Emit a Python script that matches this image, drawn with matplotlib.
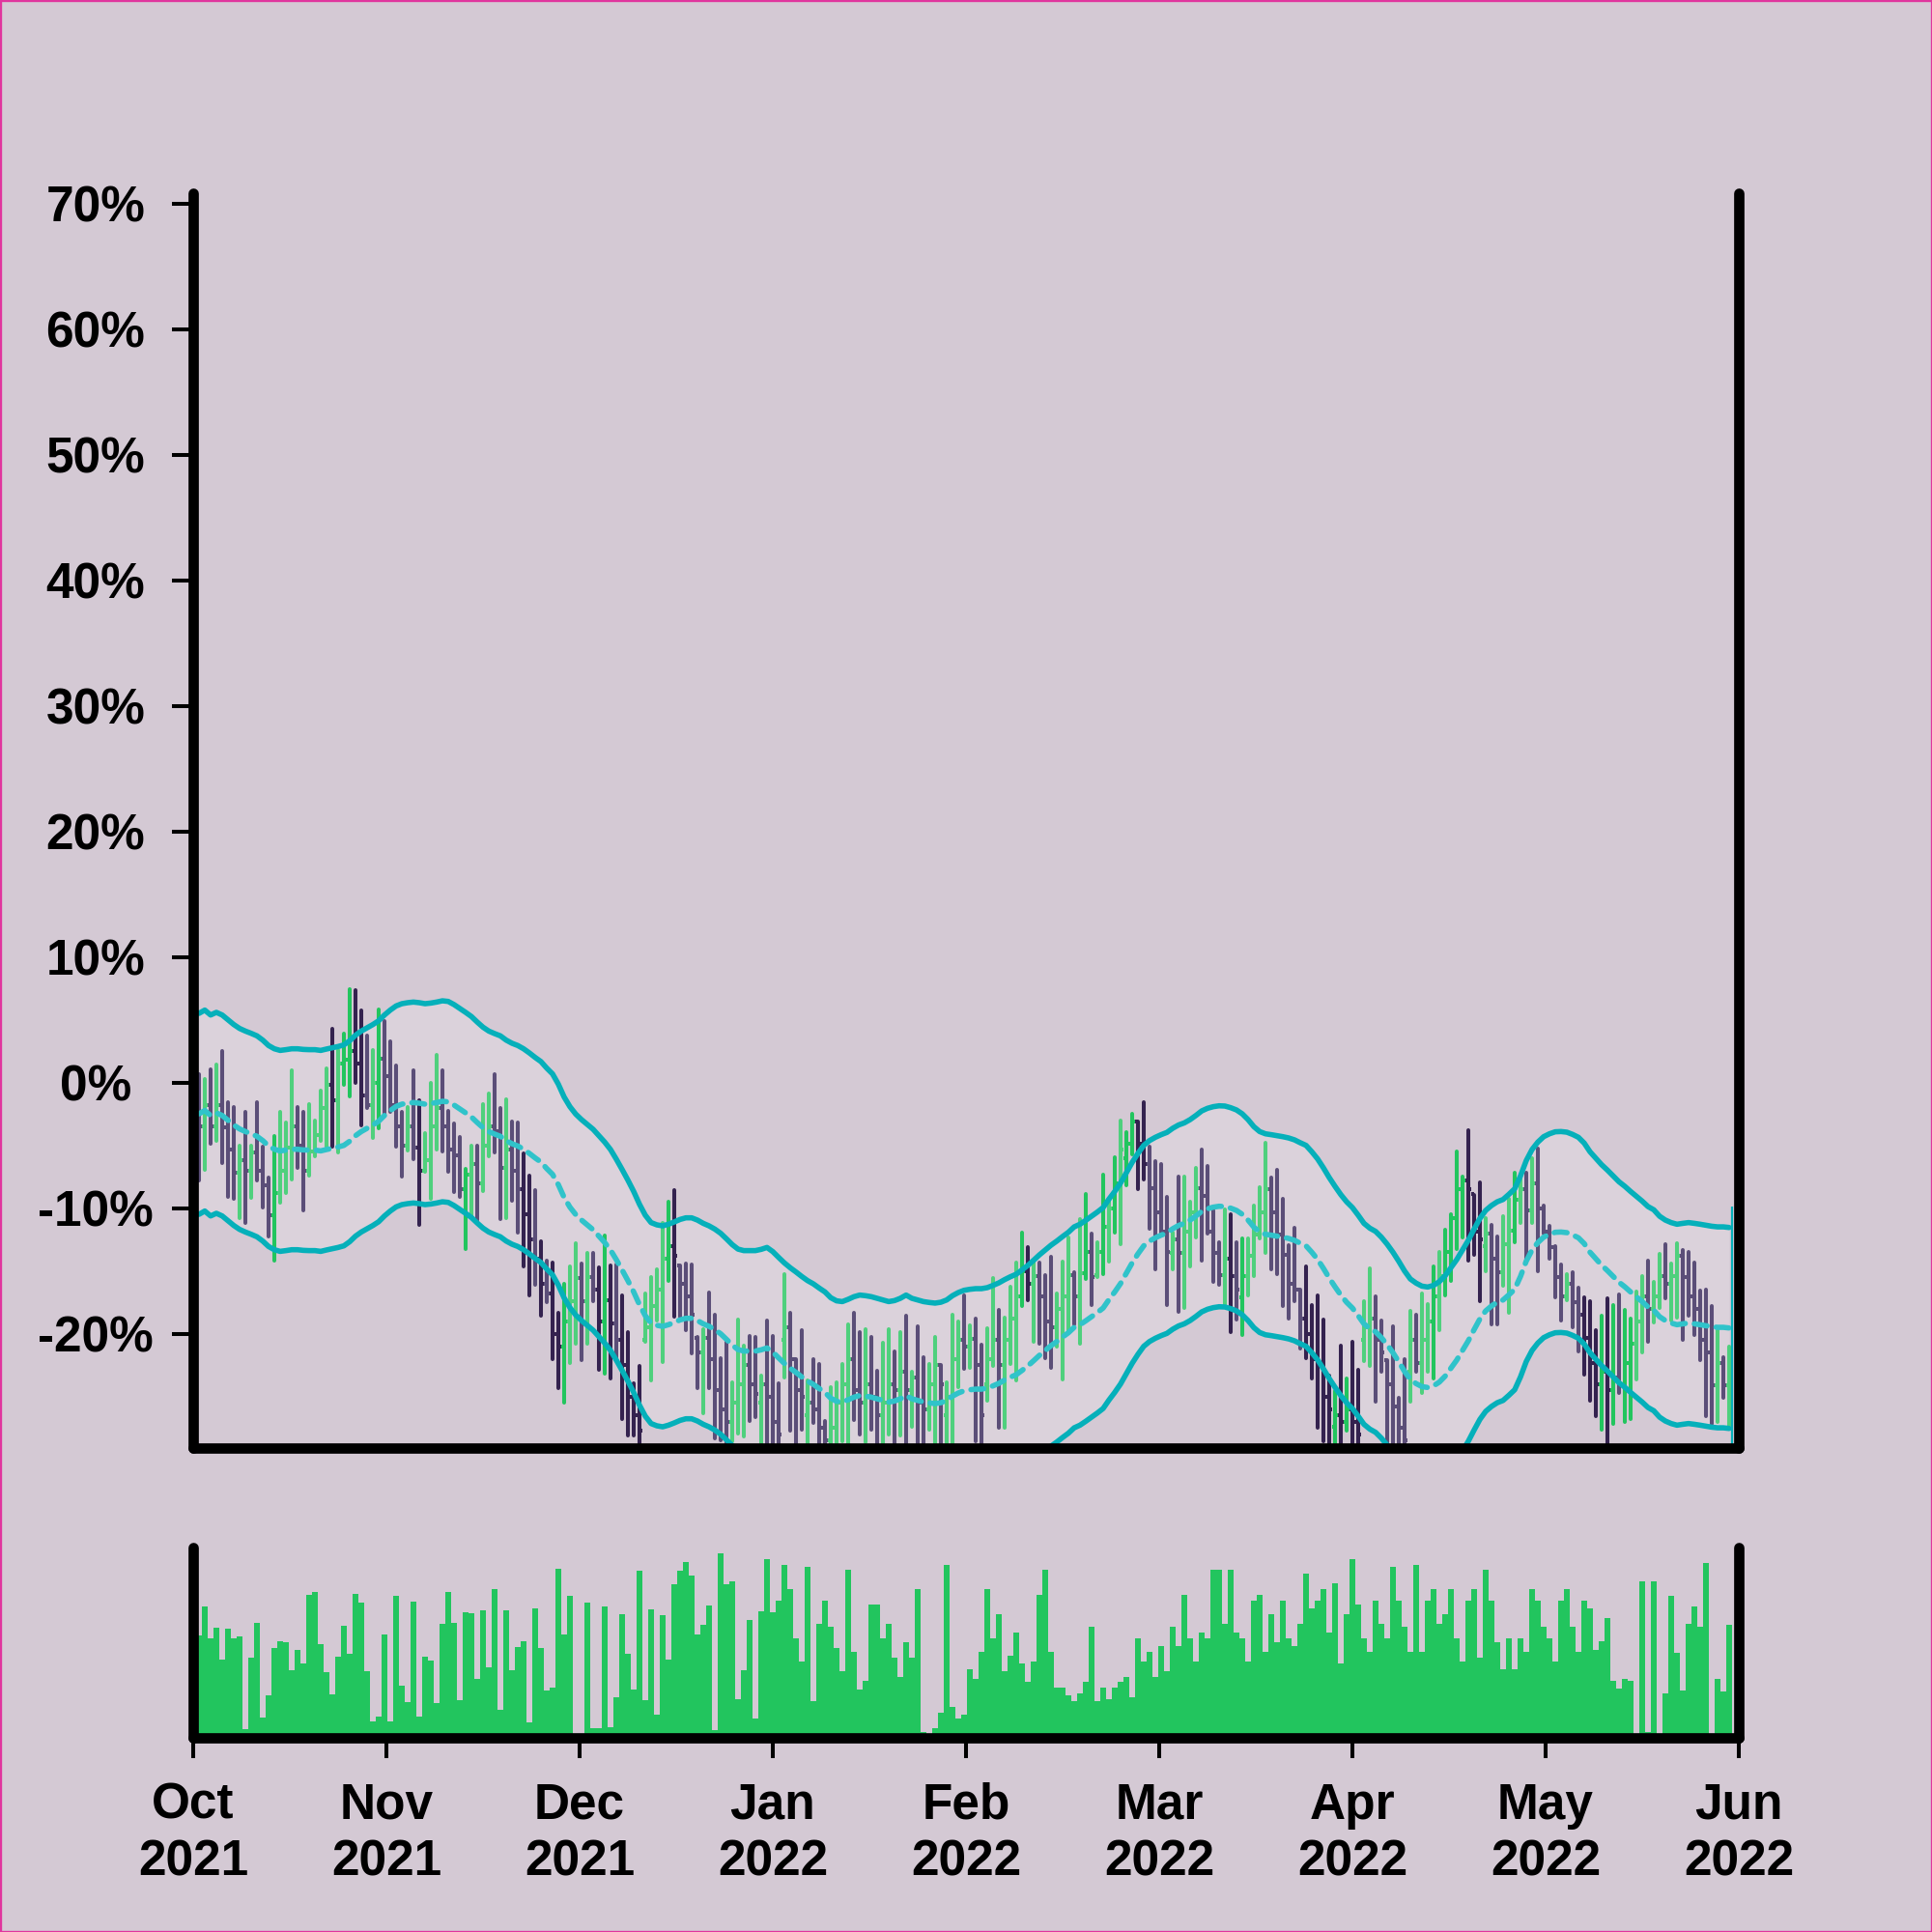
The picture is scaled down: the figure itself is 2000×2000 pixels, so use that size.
import numpy as np
import matplotlib
matplotlib.use("Agg")
import matplotlib.pyplot as plt
from matplotlib.collections import LineCollection
from matplotlib.patches import Rectangle

# ---------------- data (percent change, one bar per period) ----------------
month_labels = ["Oct\n2021", "Nov\n2021", "Dec\n2021", "Jan\n2022", "Feb\n2022",
                "Mar\n2022", "Apr\n2022", "May\n2022", "Jun\n2022"]

high = [
 0.64, 0.26, 1.03, 1.46, 2.49, -1.59, -1.92, -5.00, -2.31, -5.00,
 -1.54, -5.13, -7.56, -4.23, -2.31, -3.21, 0.95, -1.92, -2.36, -1.74,
 -3.03, -0.64, 1.13, 4.31, 2.62, 3.92, 7.44, 7.38, 5.77, 3.72,
 2.62, 5.82, 4.87, 3.26, 1.33, -2.36, -1.92, 0.97, -1.41, -4.03,
 -0.05, 2.18, 0.95, -2.23, -3.26, -4.36, -6.87, -5.05, -5.00, -1.72,
 -0.90, 0.64, -2.00, -1.33, -3.08, -3.15, -5.64, -7.44, -8.54, -12.64,
 -14.15, -14.36, -18.36, -16.03, -14.67, -12.77, -14.41, -13.59, -13.59, -14.69,
 -12.18, -14.54, -14.49, -16.97, -19.87, -23.97, -22.56, -16.79, -15.51, -14.87,
 -11.15, -9.49, -8.59, -14.56, -14.41, -14.49, -20.26, -19.62, -16.72, -18.46,
 -21.92, -20.64, -23.90, -18.85, -20.95, -20.18, -20.26, -23.33, -18.97, -20.18,
 -23.97, -15.26, -18.33, -22.00, -19.69, -23.72, -22.05, -22.38, -26.92, -24.23,
 -23.85, -22.44, -19.23, -18.33, -19.87, -19.67, -20.26, -22.95, -20.72, -19.62,
 -21.41, -19.87, -18.54, -23.03, -19.41, -21.87, -22.44, -20.26, -22.51, -23.90,
 -18.46, -19.05, -16.92, -19.36, -18.79, -20.90, -19.54, -15.59, -18.08, -18.72,
 -16.28, -14.36, -11.92, -13.13, -14.36, -14.31, -15.33, -13.85, -16.79, -14.23,
 -12.33, -15.13, -10.90, -8.87, -12.00, -12.69, -7.31, -9.36, -5.92, -3.00,
 -3.97, -2.51, -3.08, -1.59, -5.13, -6.28, -6.46, -9.13, -11.92, -7.49,
 -7.49, -9.49, -6.77, -5.31, -6.67, -10.21, -12.69, -10.13, -10.46, -12.69,
 -12.44, -12.38, -9.79, -8.33, -4.82, -7.56, -6.97, -9.28, -12.97, -11.59,
 -16.49, -14.62, -17.69, -16.92, -18.85, -23.33, -24.56, -20.97, -23.54, -20.64,
 -22.90, -17.44, -14.82, -17.05, -18.92, -22.10, -19.44, -25.08, -22.00, -18.21,
 -18.46, -16.79, -17.62, -14.62, -13.51, -11.74, -10.46, -5.51, -7.49, -3.79,
 -8.92, -7.95, -10.77, -11.33, -12.26, -10.64, -9.23, -7.18, -7.56, -7.18,
 -6.03, -5.26, -9.79, -11.41, -13.03, -14.49, -15.26, -15.13, -16.36, -17.13,
 -17.44, -19.69, -18.59, -17.18, -17.69, -16.87, -18.08, -18.77, -16.62, -15.44,
 -14.15, -15.85, -13.64, -12.87, -14.44, -12.82, -13.33, -13.46, -14.36, -16.54,
 -16.46, -17.77, -19.74, -21.87, -21.03]

low = [
 -7.82, -6.97, -4.87, -4.62, -6.41, -9.10, -9.23, -10.77, -11.15, -9.18,
 -7.82, -9.95, -12.26, -14.15, -9.54, -8.79, -7.69, -6.79, -10.18, -7.44,
 -5.90, -4.67, -5.08, -5.13, -5.59, -0.18, -1.10, -0.05, -3.41, -2.05,
 -4.41, -3.67, -2.56, -2.31, -5.08, -7.46, -5.44, -6.10, -11.33, -7.13,
 -9.28, -5.33, -5.51, -7.08, -8.72, -9.10, -13.28, -10.64, -10.97, -8.67,
 -5.90, -5.59, -10.85, -10.82, -9.41, -11.92, -14.67, -16.97, -16.10, -18.54,
 -17.49, -22.05, -24.31, -25.51, -22.31, -20.77, -22.10, -20.77, -17.44, -22.90,
 -23.21, -23.59, -22.10, -26.79, -28.08, -28.08, -29.50, -20.64, -23.72, -18.97,
 -22.26, -15.77, -18.67, -18.67, -19.69, -21.54, -24.36, -26.36, -24.36, -28.30,
 -28.46, -29.50, -28.60, -27.95, -28.15, -26.92, -26.67, -29.50, -29.50, -29.50,
 -29.50, -23.46, -27.69, -29.50, -27.64, -29.50, -27.13, -29.50, -29.50, -29.50,
 -29.50, -28.60, -29.50, -26.87, -28.00, -28.67, -27.64, -29.50, -29.50, -28.03,
 -29.50, -28.08, -29.50, -27.38, -29.50, -29.50, -27.62, -29.50, -29.50, -29.50,
 -29.50, -24.23, -22.82, -22.69, -28.60, -29.50, -25.31, -22.56, -27.49, -27.49,
 -22.44, -23.72, -17.82, -17.31, -20.64, -20.77, -21.92, -22.69, -21.03, -23.64,
 -19.82, -19.28, -20.82, -15.64, -17.69, -15.51, -15.26, -14.23, -11.92, -12.87,
 -8.15, -5.72, -8.46, -7.69, -11.67, -14.87, -12.05, -17.74, -14.87, -18.26,
 -17.95, -14.67, -12.33, -14.18, -12.05, -15.85, -16.10, -17.69, -19.87, -18.85,
 -20.13, -16.92, -15.38, -12.44, -13.54, -14.87, -15.26, -17.82, -18.79, -17.44,
 -21.15, -21.92, -23.59, -27.51, -28.59, -29.50, -29.50, -29.50, -27.69, -29.50,
 -29.50, -22.18, -22.56, -25.44, -23.03, -29.50, -29.50, -29.50, -29.50, -25.44,
 -23.03, -24.74, -23.03, -23.59, -19.69, -16.92, -15.77, -13.28, -12.36, -14.15,
 -13.72, -17.44, -15.00, -19.23, -19.23, -16.15, -18.33, -12.69, -11.15, -14.23,
 -11.15, -15.00, -12.05, -14.05, -17.13, -18.92, -17.31, -19.49, -21.41, -23.28,
 -25.33, -26.54, -27.62, -29.50, -27.18, -24.74, -27.05, -26.79, -23.67, -21.49,
 -20.64, -19.10, -17.95, -17.18, -18.92, -18.72, -20.46, -18.59, -20.13, -22.10,
 -26.59, -27.18, -27.05, -25.13, -27.31]

open_ = [
 -1.0, -3.5, -1.8, -3.5, -1.8, -3.6, -5.3, -7.2, -6.2, -7.0,
 -5.6, -7.0, -8.2, -10.6, -8.8, -7.0, -5.2, -3.5, -5.0, -7.0,
 -5.5, -4.2, -2.0, -0.2, -1.4, 1.5, 1.8, 2.5, 1.5, -1.0,
 -1.8, 0.0, 1.9, 0.5, -1.8, -3.5, -5.0, -3.5, -5.2, -7.0,
 -6.2, -3.5, -2.0, -3.5, -5.3, -5.8, -8.5, -7.3, -6.5, -8.0,
 -5.0, -3.5, -3.9, -6.8, -5.3, -7.0, -8.5, -10.5, -12.5, -14.0,
 -16.0, -16.8, -20.0, -21.0, -19.0, -17.4, -15.6, -17.4, -15.5, -16.5,
 -19.0, -17.3, -19.2, -20.5, -22.5, -25.0, -26.5, -20.5, -19.5, -17.8,
 -16.5, -14.0, -13.0, -14.6, -16.0, -17.0, -20.3, -21.5, -20.3, -22.0,
 -24.5, -26.0, -27.0, -25.5, -24.0, -22.5, -24.0, -25.5, -24.0, -25.0,
 -27.0, -20.5, -19.5, -22.0, -24.5, -26.5, -25.5, -26.0, -27.5, -28.5,
 -27.5, -25.5, -24.0, -22.0, -24.5, -25.5, -24.0, -25.0, -26.5, -25.5,
 -24.0, -24.5, -23.0, -24.5, -23.5, -25.5, -26.0, -24.0, -22.5, -26.5,
 -25.0, -22.0, -20.5, -21.0, -20.4, -22.5, -24.0, -22.0, -20.5, -22.5,
 -20.5, -18.8, -17.0, -15.0, -16.0, -15.4, -17.0, -19.0, -19.5, -18.0,
 -17.0, -15.3, -17.0, -15.2, -13.5, -15.3, -13.5, -11.5, -10.0, -8.0,
 -6.0, -4.9, -3.1, -4.9, -6.5, -8.4, -10.3, -11.9, -13.6, -12.5,
 -13.6, -11.9, -10.3, -8.4, -9.0, -11.9, -13.6, -15.3, -14.0, -15.4,
 -17.1, -15.4, -13.8, -12.1, -10.3, -8.5, -10.3, -12.1, -13.7, -16.0,
 -16.5, -18.8, -20.0, -22.0, -22.5, -25.0, -27.4, -26.5, -27.0, -26.0,
 -27.0, -20.5, -19.5, -18.8, -20.5, -22.1, -24.0, -25.8, -27.5, -23.0,
 -20.5, -22.3, -20.5, -19.0, -17.0, -15.4, -13.5, -10.8, -8.5, -7.8,
 -8.9, -11.9, -13.0, -12.0, -14.0, -15.1, -12.9, -11.8, -9.3, -8.5,
 -10.2, -8.0, -10.0, -11.9, -13.1, -15.5, -17.0, -16.0, -17.5, -18.5,
 -20.3, -22.3, -24.0, -23.0, -24.5, -23.5, -24.0, -22.3, -20.8, -19.0,
 -17.0, -18.0, -17.0, -15.4, -16.0, -15.4, -13.8, -15.5, -17.0, -18.0,
 -20.5, -21.5, -24.1, -22.3, -24.1]

close = [
 -3.5, -1.8, -3.5, -1.8, -3.6, -5.3, -7.2, -6.2, -7.0, -5.6,
 -7.0, -8.2, -10.6, -8.8, -7.0, -5.2, -3.5, -5.0, -7.0, -5.5,
 -4.2, -2.0, -0.2, -1.4, 1.5, 1.8, 2.5, 1.5, -1.0, -1.8,
 0.0, 1.9, 0.5, -1.8, -3.5, -5.0, -3.5, -5.2, -7.0, -6.2,
 -3.5, -2.0, -3.5, -5.3, -5.8, -8.5, -7.3, -6.5, -8.0, -5.0,
 -3.5, -3.9, -6.8, -5.3, -7.0, -8.5, -10.5, -12.5, -14.0, -16.0,
 -16.8, -20.0, -21.0, -19.0, -17.4, -15.6, -17.4, -15.5, -16.5, -19.0,
 -17.3, -19.2, -20.5, -22.5, -25.0, -26.5, -27.7, -19.5, -17.8, -16.5,
 -14.0, -13.0, -13.8, -16.0, -17.0, -18.5, -21.5, -20.3, -22.0, -24.5,
 -26.0, -27.0, -25.5, -24.0, -22.5, -24.0, -24.8, -24.0, -25.0, -27.0,
 -28.0, -19.5, -22.0, -24.5, -25.0, -25.5, -26.0, -27.5, -28.5, -27.5,
 -25.5, -24.0, -22.0, -24.5, -25.5, -24.0, -25.0, -26.5, -25.5, -24.0,
 -24.5, -23.0, -24.5, -23.5, -25.5, -26.0, -24.0, -22.5, -24.0, -25.0,
 -22.0, -20.5, -21.0, -20.4, -22.5, -26.5, -22.0, -20.5, -22.5, -20.5,
 -18.8, -17.0, -15.0, -16.0, -15.4, -17.0, -19.0, -19.5, -18.0, -17.0,
 -15.3, -17.0, -15.2, -13.5, -15.5, -13.5, -11.5, -10.0, -8.0, -5.3,
 -4.9, -3.1, -4.9, -6.5, -8.4, -10.3, -11.9, -13.5, -12.5, -13.6,
 -11.9, -10.3, -8.4, -9.0, -11.9, -13.6, -15.3, -14.0, -15.4, -16.5,
 -15.4, -13.8, -12.1, -10.3, -8.5, -10.3, -12.1, -13.7, -16.0, -16.5,
 -18.8, -20.0, -22.0, -22.5, -25.0, -26.0, -26.5, -27.0, -26.0, -27.0,
 -28.0, -19.5, -18.8, -20.5, -21.5, -24.0, -25.8, -27.5, -28.5, -20.5,
 -22.3, -20.5, -19.0, -17.0, -15.4, -13.5, -10.8, -8.5, -7.8, -8.5,
 -11.9, -12.5, -12.0, -14.0, -15.1, -12.9, -11.8, -9.3, -8.5, -10.2,
 -8.0, -10.0, -11.9, -13.1, -15.5, -17.0, -16.0, -17.5, -18.5, -20.3,
 -22.3, -24.0, -23.0, -24.5, -23.5, -24.0, -22.3, -20.8, -19.0, -17.0,
 -18.0, -17.0, -15.4, -16.0, -15.4, -13.8, -15.5, -17.0, -18.0, -20.5,
 -21.5, -24.1, -22.3, -24.1, -22.3]

# centre line of the envelope (moving average) and its half width
mid_band = [
 -2.49, -2.23, -2.62, -2.41, -2.62, -3.00, -3.38, -3.69, -3.90, -4.08,
 -4.28, -4.62, -5.05, -5.31, -5.44, -5.38, -5.31, -5.31, -5.36, -5.38,
 -5.38, -5.44, -5.33, -5.23, -5.13, -5.00, -4.67, -4.23, -3.90, -3.64,
 -3.38, -3.08, -2.62, -2.23, -1.90, -1.72, -1.64, -1.59, -1.64, -1.72,
 -1.67, -1.59, -1.49, -1.54, -1.79, -2.10, -2.41, -2.74, -3.18, -3.59,
 -3.90, -4.10, -4.28, -4.62, -4.87, -5.05, -5.31, -5.64, -6.00, -6.33,
 -6.85, -7.31, -8.13, -9.15, -9.92, -10.51, -10.95, -11.33, -11.72, -12.23,
 -12.74, -13.33, -14.10, -14.92, -15.77, -16.67, -17.69, -18.56, -19.15, -19.33,
 -19.41, -19.28, -19.10, -18.90, -18.77, -18.77, -18.95, -19.21, -19.41, -19.67,
 -20.00, -20.44, -20.90, -21.26, -21.38, -21.38, -21.38, -21.28, -21.13, -21.46,
 -21.92, -22.36, -22.74, -23.08, -23.44, -23.77, -24.03, -24.36, -24.67, -25.13,
 -25.38, -25.44, -25.26, -25.05, -24.92, -24.97, -25.05, -25.18, -25.31, -25.44,
 -25.36, -25.18, -24.92, -25.18, -25.31, -25.44, -25.51, -25.56, -25.49, -25.31,
 -24.97, -24.72, -24.54, -24.46, -24.41, -24.41, -24.33, -24.15, -23.95, -23.69,
 -23.46, -23.26, -22.92, -22.56, -22.15, -21.72, -21.33, -20.95, -20.62, -20.26,
 -19.92, -19.49, -19.28, -18.97, -18.64, -18.31, -17.95, -17.28, -16.67, -16.00,
 -15.18, -14.36, -13.64, -13.00, -12.62, -12.36, -12.15, -11.97, -11.64, -11.38,
 -11.21, -10.95, -10.62, -10.26, -10.05, -9.92, -9.85, -9.87, -10.00, -10.18,
 -10.49, -10.95, -11.51, -11.90, -12.08, -12.15, -12.23, -12.31, -12.41, -12.56,
 -12.79, -13.00, -13.51, -14.08, -14.79, -15.56, -16.26, -16.92, -17.49, -17.95,
 -18.56, -19.21, -19.59, -19.85, -20.31, -20.87, -21.51, -22.23, -23.00, -23.64,
 -23.97, -24.21, -24.28, -24.15, -23.85, -23.38, -22.74, -22.10, -21.33, -20.56,
 -19.67, -18.82, -18.18, -17.79, -17.49, -17.31, -16.90, -16.46, -15.44, -14.21,
 -13.33, -12.74, -12.31, -12.08, -11.92, -11.90, -11.95, -12.13, -12.36, -12.82,
 -13.51, -14.03, -14.54, -14.97, -15.44, -15.90, -16.26, -16.67, -17.05, -17.44,
 -17.87, -18.13, -18.64, -18.95, -19.15, -19.28, -19.21, -19.15, -19.21, -19.28,
 -19.36, -19.44, -19.49, -19.49, -19.54]
band_half_width = 8.0
end_marker_top = -9.9     # thin closing line after the last bar

# volume, as a share (%) of the volume panel height
volume = [
 53.6, 68.9, 52.3, 57.9, 40.9, 57.4, 52.3, 53.3, 4.2, 42.1,
 60.4, 10.5, 22.3, 47.2, 50.8, 50.3, 35.5, 46.0, 38.7, 75.1,
 76.5, 49.1, 34.5, 22.7, 42.6, 58.7, 44.0, 75.5, 70.9, 35.0,
 8.6, 11.0, 54.1, 8.6, 74.6, 27.4, 18.8, 71.4, 10.8, 42.5,
 40.6, 18.3, 59.9, 76.3, 60.4, 19.8, 65.8, 65.5, 30.8, 66.8,
 36.7, 78.0, 14.4, 66.8, 35.4, 47.7, 50.8, 8.0, 67.9, 47.2,
 24.5, 26.1, 88.7, 54.3, 74.6, 0.0, 0.0, 71.2, 4.6, 4.6,
 68.9, 5.1, 21.0, 65.0, 43.8, 25.4, 87.5, 19.6, 67.2, 11.7,
 64.5, 40.8, 80.4, 87.8, 92.2, 85.3, 54.1, 59.1, 69.5, 3.6,
 96.8, 80.4, 82.4, 20.3, 35.4, 61.8, 10.0, 66.3, 94.0, 66.0,
 72.0, 91.0, 78.0, 52.0, 40.0, 90.0, 19.0, 60.0, 72.0, 58.0,
 47.0, 35.0, 88.0, 45.0, 25.0, 30.0, 70.0, 70.0, 52.0, 60.0,
 42.0, 32.0, 50.0, 42.0, 78.0, 3.0, 2.0, 5.0, 13.0, 91.0,
 16.0, 10.0, 12.0, 36.0, 31.0, 45.0, 78.0, 52.0, 65.0, 35.0,
 43.0, 55.0, 39.0, 29.0, 40.0, 75.0, 88.0, 45.0, 26.0, 26.0,
 22.0, 19.0, 23.0, 29.0, 58.0, 19.0, 26.0, 20.0, 26.0, 29.0,
 32.0, 21.0, 52.0, 40.0, 45.0, 32.0, 48.0, 35.0, 58.0, 48.0,
 75.0, 52.0, 40.0, 55.0, 52.0, 88.0, 88.0, 60.0, 88.0, 55.0,
 52.0, 40.0, 72.0, 75.0, 45.0, 65.0, 50.0, 72.0, 52.0, 48.0,
 60.0, 86.0, 68.0, 72.0, 78.0, 55.0, 81.0, 39.0, 65.0, 94.0,
 70.0, 52.0, 45.0, 72.0, 60.0, 52.0, 90.0, 72.0, 58.0, 45.0,
 91.0, 45.0, 72.0, 78.0, 60.0, 65.0, 78.0, 52.0, 40.0, 72.0,
 78.0, 42.0, 88.0, 72.0, 50.0, 36.0, 52.0, 36.0, 52.0, 45.0,
 78.0, 72.0, 58.0, 52.0, 40.0, 72.0, 78.0, 58.0, 45.0, 72.0,
 68.0, 46.0, 50.6, 63.0, 29.6, 25.7, 30.8, 29.6, 0.0, 82.1,
 3.0, 82.4, 0.0, 23.1, 74.7, 44.3, 24.9, 59.9, 68.9, 58.4,
 91.7, 0.0, 30.8, 24.0, 59.2]

# bars drawn in the strong colour (breakouts of the envelope), by bar number
highlight = [14, 24, 26, 27, 28, 29, 32, 39, 47, 57, 58, 60, 62, 63, 64, 70, 71,
             72, 74, 75, 76, 77, 82, 83, 143, 144, 154, 157, 159, 161, 162, 163,
             164, 179, 181, 192, 193, 194, 195, 196, 197, 198, 199, 200, 201, 214,
             216, 217, 218, 219, 220, 221, 222, 228, 240, 241, 242, 243, 244, 245,
             247, 248]

n = len(close)
assert all(len(a) == n for a in (high, low, open_, mid_band, volume))

# ---------------- style ----------------
BG = "#d4c9d4"
UP_STRONG, UP_SOFT = "#22c55e", "#4fd07d"
DN_STRONG, DN_SOFT = "#34224f", "#5b4e78"
TEAL, TEAL_MID = "#05b0ba", "#30c3ca"
FONT = ["Liberation Sans", "DejaVu Sans"]
FS = 18.5
plt.rcParams["font.family"] = FONT
plt.rcParams["font.weight"] = "bold"

x = np.arange(1, n + 1)
hi = np.array(high); lo = np.array(low)
op = np.array(open_); cl = np.array(close)
mid = np.array(mid_band)
upper = mid + band_half_width
lower = mid - band_half_width
vol = np.array(volume)
hl = set(highlight)

fig = plt.figure(figsize=(10, 10), dpi=200, facecolor=BG)
ax = fig.add_axes([0.1, 0.2505, 0.8, 0.6494], facecolor=BG)
axv = fig.add_axes([0.1, 0.10075, 0.8, 0.0983], facecolor=BG)

XMAX = 266.67
for a in (ax, axv):
    a.set_xlim(0, XMAX)
    a.spines["top"].set_visible(False)
    for s in ("left", "right", "bottom"):
        a.spines[s].set_linewidth(3.85)
        a.spines[s].set_capstyle("round")
        a.spines[s].set_color("black")
        a.spines[s].set_zorder(10)

YMIN, YMAX = -29.1, 70.8
ax.set_ylim(YMIN, YMAX)

# envelope fill
ax.fill_between(x, lower, upper, color="white", alpha=0.18, lw=0, zorder=1)

# OHLC bars
vsegs, tsegs, vcols, tcols = [], [], [], []
for i in range(n):
    up = cl[i] >= op[i]
    strong = (i + 1) in hl
    if up:
        c = UP_STRONG if strong else UP_SOFT
    else:
        c = DN_STRONG if strong else DN_SOFT
    vsegs.append([(x[i], lo[i]), (x[i], hi[i])])
    vcols.append(c)
    tsegs.append([(x[i] - 0.5, op[i]), (x[i], op[i])])
    tsegs.append([(x[i], cl[i]), (x[i] + 0.5, cl[i])])
    tcols += [c, c]
lc_v = LineCollection(vsegs, colors=vcols, linewidths=1.45, zorder=2, capstyle="round")
lc_t = LineCollection(tsegs, colors=tcols, linewidths=1.45, zorder=2, capstyle="butt")
ax.add_collection(lc_v)
ax.add_collection(lc_t)

# envelope lines
ax.plot(x, upper, color=TEAL, lw=2.0, zorder=3, solid_capstyle="round", solid_joinstyle="round")
ax.plot(x, lower, color=TEAL, lw=2.0, zorder=3, solid_capstyle="round", solid_joinstyle="round")
ax.plot(x, mid, color=TEAL_MID, lw=2.0, zorder=3, linestyle=(0, (2.4, 1.7)),
        dash_capstyle="round")
ax.vlines(x[-1] + 0.5, YMIN, end_marker_top, color=TEAL, lw=0.8, zorder=3)

# y axis (labels centred in the left margin)
yt = list(range(-20, 71, 10))
ax.set_yticks(yt)
ax.set_yticklabels([f"{v}%" for v in yt], fontsize=FS, fontweight="bold", family=FONT,
                   ha="center")
ax.tick_params(axis="y", length=8, width=1.45, pad=28.4, direction="out")
ax.set_xticks([])

# volume
axv.bar(x, vol, width=1.0, color=UP_STRONG, linewidth=0, zorder=2)
axv.set_ylim(0, 100)
axv.set_yticks([])
axv.set_xticks(np.linspace(0, XMAX, len(month_labels)))
axv.set_xticklabels(month_labels, fontsize=FS, fontweight="bold", family=FONT,
                    linespacing=1.25)
axv.tick_params(axis="x", length=7.6, width=1.45, pad=9, direction="out")

fig.add_artist(Rectangle((0, 0), 1, 1, transform=fig.transFigure, fill=False,
                         edgecolor="#e0359e", lw=1.2))

fig.savefig("out.png", dpi=200, facecolor=BG)
